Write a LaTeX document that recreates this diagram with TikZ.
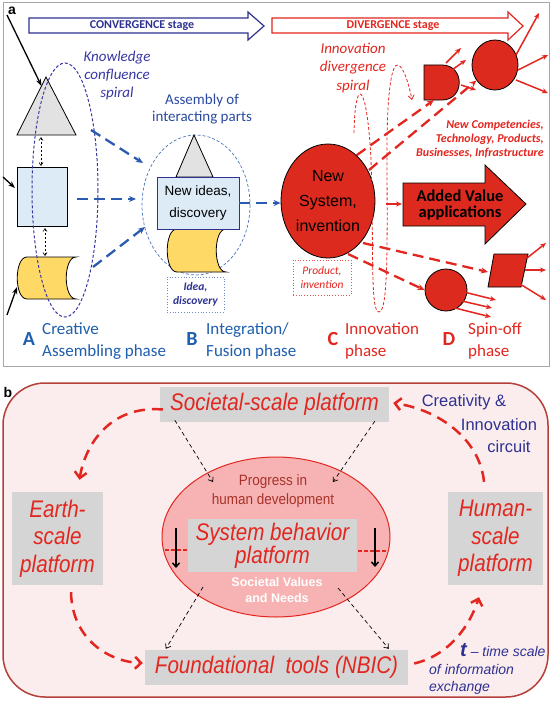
\documentclass[tikz,border=0pt]{standalone}
\usepackage{fontspec}
\setmainfont{Carlito}
\newfontfamily\arial{Liberation Sans}
\newfontfamily\cond[FakeStretch=0.86]{Liberation Sans}
\newfontfamily\semicond[FakeStretch=0.9]{Liberation Sans}
\usetikzlibrary{arrows.meta,shapes.geometric,calc}
\definecolor{convblue}{HTML}{2E3192}
\definecolor{phblue}{HTML}{1F5FAF}
\definecolor{kblue}{HTML}{3838A5}
\definecolor{dblue}{HTML}{2B5BB0}
\definecolor{myred}{HTML}{E3261F}
\definecolor{fillred}{HTML}{DC2A1E}
\definecolor{lgray}{HTML}{E2E2E2}
\definecolor{lblue}{HTML}{DDEBF7}
\definecolor{yel}{HTML}{FFD966}
\definecolor{pinkbg}{HTML}{FBEDED}
\definecolor{pinkell}{HTML}{F7B3B3}
\definecolor{boxgray}{HTML}{D5D5D5}
\definecolor{brownred}{HTML}{A8322A}
\definecolor{framered}{HTML}{B5403A}
\definecolor{assemblue}{HTML}{2A4BA0}
\tikzset{
  blackarr/.style={line width=1.3pt,-{Stealth[length=7pt,width=5pt]}},
  dblarr/.style={line width=0.6pt,dash pattern=on 2.5pt off 1.5pt,{Straight Barb[length=3pt,width=4pt]}-{Straight Barb[length=3pt,width=4pt]}},
  bluedash/.style={dblue,line width=2.3pt,dash pattern=on 11pt off 6pt,-{Stealth[length=7pt,width=6pt]}},
  reddash/.style={myred,line width=2.3pt,dash pattern=on 11pt off 6pt,-{Stealth[length=7pt,width=6pt]}},
  redarr/.style={myred,line width=1.5pt,-{Stealth[length=6pt,width=5pt]}},
  blkdash/.style={line width=0.7pt,dash pattern=on 4pt off 3pt,-{Straight Barb[length=4pt,width=6pt]}},
  redcurve/.style={myred,line width=2.5pt,dash pattern=on 11pt off 7pt,-{Straight Barb[length=6pt,width=12pt]}},
  shapeline/.style={draw=black,line width=0.8pt},
  graybox/.style={fill=boxgray,inner sep=0pt,text=myred,align=center},
  phaseletter/.style={font=\bfseries\fontsize{20}{20}\selectfont,inner sep=0pt},
  phasetext/.style={anchor=west,inner sep=0pt,align=left,font=\fontsize{17}{22}\selectfont},
}
\begin{document}
\begin{tikzpicture}[x=1pt,y=-1pt]
\useasboundingbox (0,0) rectangle (552,701);
\fill[white] (0,0) rectangle (552,701);
% ================= panel a =================
\draw[gray!70,line width=1pt] (3,3) rectangle (549,366);
\node[font=\arial\bfseries\fontsize{14}{14}\selectfont] (la) at (12,11) {a};
% stage arrows
\draw[convblue,line width=1.2pt,fill=white] (29,18) -- (248,18) -- (248,12) -- (264,26) -- (248,40) -- (248,33) -- (29,33) -- cycle;
\node[convblue,font=\bfseries\fontsize{12}{12}\selectfont] (conv) at (142,26) {CONVERGENCE stage};
\draw[myred,line width=1.2pt,fill=white] (272,18) -- (508,18) -- (508,12) -- (523,26) -- (508,40) -- (508,33) -- (272,33) -- cycle;
\node[myred,font=\bfseries\fontsize{12}{12}\selectfont] (div) at (393,26) {DIVERGENCE stage};
% A shapes
\draw[shapeline,fill=lgray] (46,77) -- (76,135) -- (17,135) -- cycle;
\coordinate (triA) at (41.5,86);
\node[shapeline,fill=lblue,minimum width=50pt,minimum height=59pt,inner sep=0pt] (sqA) at (42,196.5) {};
\draw[shapeline,fill=yel] (27,257) -- (76,257) .. controls (63,257) and (63,299) .. (76,299) -- (27,299) .. controls (14,299) and (14,257) .. (27,257) -- cycle;
\coordinate (scA) at (17,287);
\coordinate (s1) at (7,15);
\coordinate (s2) at (3,177);
\coordinate (s3) at (7,315);
\draw[blackarr] (s1) -- (triA);
\draw[blackarr] (s2) -- (15,188);
\draw[blackarr] (s3) -- (scA);
\draw[dblarr] (41,137) -- (41,166);
\draw[dblarr] (45,228) -- (45,256);
% knowledge spiral
\draw[kblue,line width=1pt,dash pattern=on 3pt off 2pt] (65,190) ellipse [x radius=33,y radius=127];
\node[kblue,font=\itshape\fontsize{15}{18}\selectfont,align=center] (know) at (117,76) {Knowledge\\confluence\\spiral};
% B group
\draw[dblue!85,line width=0.7pt,dash pattern=on 3pt off 2pt] (196,205) ellipse [x radius=54,y radius=70];
\node[assemblue,font=\fontsize{15}{17}\selectfont,align=center] (assem) at (202,109) {Assembly of\\interacting parts};
\draw[shapeline,fill=lgray] (194,135) -- (213,177) -- (176,177) -- cycle;
\draw[shapeline,fill=yel] (177,229) -- (226,229) .. controls (213,229) and (213,272) .. (226,272) -- (177,272) .. controls (164,272) and (164,229) .. (177,229) -- cycle;
\node[draw=convblue,fill=lblue,line width=0.8pt,minimum width=82pt,minimum height=52pt,inner sep=0pt,font=\arial\fontsize{13.5}{22}\selectfont,align=center] (ni) at (198,203) {New ideas,\\discovery};
\node[draw=dblue!70,dotted,line width=0.8pt,minimum width=57pt,minimum height=35pt,inner sep=0pt,text=convblue,font=\bfseries\itshape\fontsize{11.5}{14}\selectfont,align=center] (idea) at (195.5,294.5) {Idea,\\discovery};
% blue dashed arrows
\coordinate (k1) at (91,130);
\coordinate (k2) at (77,199);
\coordinate (k3) at (93,267);
\draw[bluedash] (k1) -- (143,163);
\draw[bluedash] (k2) -- (136,199);
\draw[bluedash] (k3) -- (145,227);
% C group
\node[ellipse,draw=black,fill=fillred,line width=0.8pt,minimum width=94pt,minimum height=114pt,inner sep=0pt,font=\arial\fontsize{16}{25}\selectfont,align=center] (ns) at (328,201) {New\\System,\\invention};
\draw[bluedash] (ni.east) -- (ni.east -| ns.west);
\node[draw=myred!80,dotted,line width=0.8pt,minimum width=58pt,minimum height=35pt,inner sep=0pt,text=myred,font=\itshape\fontsize{11.5}{14}\selectfont,align=center] (prod) at (322,277.5) {Product,\\invention};
\node[myred,font=\itshape\fontsize{15}{18.5}\selectfont,align=center] (innsp) at (353,68) {Innovation\\divergence\\spiral};
\draw[myred,line width=0.8pt,dash pattern=on 3pt off 2pt,-{Straight Barb[length=4pt,width=6pt]}]
  (354,133) .. controls (355,75) and (367,80) .. (371,160)
  .. controls (374,250) and (370,312) .. (379,312)
  .. controls (389,312) and (387,230) .. (387,150)
  .. controls (387,90) and (392,63) .. (398,65)
  .. controls (404,67) and (409,85) .. (412,100);
% D group
\draw[shapeline,fill=fillred] (424,65) -- (442,65) .. controls (465,65) and (465,100) .. (442,100) -- (424,100) -- cycle;
\coordinate (dsh) at (434,100);
\node[ellipse,draw=black,fill=fillred,line width=0.8pt,minimum width=46pt,minimum height=50pt,inner sep=0pt] (c1) at (495,65) {};
\draw[redarr] (446,63) -- (461,48);
\draw[redarr] (449,72) -- (466,60);
\draw[redarr] (461,85) -- (476,90);
\draw[redarr] (516,55) -- (539,13);
\draw[redarr] (518,70) -- (548,55);
\draw[redarr] (516,80) -- (548,93);
\draw[reddash] (ns.58) -- (dsh);
\draw[reddash] (369,170) -- (c1.220);
\node[myred,font=\bfseries\itshape\fontsize{12}{14}\selectfont,align=right,anchor=east,inner sep=0pt] (comp) at (544,139) {New Competencies,\\Technology, Products,\\Businesses, Infrastructure};
\draw[shapeline,fill=fillred] (403,183) -- (485,183) -- (485,165) -- (526,204) -- (485,244) -- (485,226) -- (403,226) -- cycle;
\node[font=\bfseries\fontsize{16.5}{16.5}\selectfont,align=center] (added) at (460,205) {Added Value\\applications};
\draw[redarr] (386,204) -- (402,204);
\draw[shapeline,fill=fillred] (494,254) -- (528,254) -- (521,287) -- (488,287) -- cycle;
\coordinate (par) at (488,272);
\node[circle,draw=black,fill=fillred,line width=0.8pt,minimum size=42pt,inner sep=0pt] (c2) at (446,290) {};
\draw[reddash] (363,243) -- (par);
\draw[reddash] (348,254) -- (c2.west);
\draw[redarr] (527,258) -- (546,243);
\draw[redarr] (525,270) -- (546,270);
\draw[redarr] (520,284) -- (546,300);
\draw[redarr] (464,292) -- (496,300);
\draw[redarr] (462,301) -- (492,308);
\draw[redarr] (455,308) -- (491,317);
% phase labels
\node[phaseletter,phblue] (pA) at (29,339) {A};
\node[phasetext,phblue] (tA) at (42,341) {Creative\\Assembling phase};
\node[phaseletter,phblue] (pB) at (192,339) {B};
\node[phasetext,phblue] (tB) at (206,341) {Integration/\\Fusion phase};
\node[phaseletter,myred] (pC) at (333,339) {C};
\node[phasetext,myred] (tC) at (345,341) {Innovation\\phase};
\node[phaseletter,myred] (pD) at (449,339) {D};
\node[phasetext,myred] (tD) at (468,341) {Spin-off\\phase};
% ================= panel b =================
\draw[framered,line width=1.5pt,fill=pinkbg,rounded corners=42pt] (3,383) rectangle (548,697);
\node[font=\arial\bfseries\fontsize{14}{14}\selectfont] (lb) at (8,392) {b};
\node[ellipse,draw=myred,fill=pinkell,line width=1pt,minimum width=228pt,minimum height=160pt,inner sep=0pt] (ell) at (276,537) {};
\node[brownred,font=\semicond\fontsize{15}{19}\selectfont,align=center] (prog) at (273,491.5) {Progress in\\human development};
\node[graybox,minimum width=169pt,minimum height=53pt,font=\cond\itshape\fontsize{24}{23}\selectfont] (sbp) at (272.5,545.5) {System behavior\\platform};
\node[white,font=\arial\bfseries\fontsize{12.5}{16}\selectfont,align=center] (sv) at (277,590) {Societal Values\\and Needs};
\draw[line width=1.5pt,-{Straight Barb[length=4pt,width=7pt]}] (176,528) -- (176,568);
\draw[myred,line width=1.5pt,dash pattern=on 4pt off 2pt] (165,550) -- (188,550);
\draw[line width=1.5pt,-{Straight Barb[length=4pt,width=7pt]}] (375,528) -- (375,567);
\draw[myred,line width=1.5pt,dash pattern=on 4pt off 2pt] (358,551) -- (387,551);
\node[graybox,minimum width=229pt,minimum height=35pt,font=\cond\itshape\fontsize{24}{24}\selectfont] (soc) at (274.5,404.5) {Societal-scale platform};
\node[graybox,minimum width=91pt,minimum height=93pt,font=\cond\itshape\fontsize{24}{27.5}\selectfont] (earth) at (57.5,538.5) {Earth-\\scale\\platform};
\node[graybox,minimum width=95pt,minimum height=93pt,font=\cond\itshape\fontsize{24}{27.5}\selectfont] (human) at (495.5,538.5) {Human-\\scale\\platform};
\node[graybox,minimum width=263pt,minimum height=35pt,font=\cond\itshape\fontsize{24}{24}\selectfont] (found) at (276.5,667.5) {Foundational\ \ tools (NBIC)};
% black dashed arrows
\draw[blkdash] ($(soc.south west)+(15,-2)$) -- (213,482);
\draw[blkdash] ($(soc.south west)+(215,-1)$) -- (333,482);
\draw[blkdash] (203,587) -- ($(found.north west)+(21,-1)$);
\draw[blkdash] (338,588) -- ($(found.north west)+(244,-1)$);
% red curved circuit
\draw[redcurve] ($(soc.west)+(3,5)$) .. controls (110,405) and (85,445) .. ($(earth.north)+(22,-12)$);
\draw[redcurve] ($(earth.south)+(13.5,7)$) .. controls (72,640) and (110,662) .. ($(found.west)+(-2,-4.5)$);
\draw[redcurve] ($(found.east)+(6,-4)$) .. controls (450,655) and (470,625) .. ($(human.south)+(-16.5,12)$);
\draw[redcurve] ($(human.north)+(-11.5,-10)$) .. controls (480,440) and (440,410) .. ($(soc.east)+(4,-1.5)$);
\node[convblue,font=\arial\fontsize{16.5}{16.5}\selectfont] (cr1) at (464,402) {Creativity \&};
\node[convblue,font=\arial\fontsize{16.5}{16.5}\selectfont] (cr2) at (499,425) {Innovation};
\node[convblue,font=\arial\fontsize{16.5}{16.5}\selectfont] (cr3) at (509,447) {circuit};
\node[anchor=west,inner sep=0pt,convblue,font=\arial\itshape\fontsize{14}{14}\selectfont] (t1) at (460,650) {{\bfseries\fontsize{20}{20}\selectfont t} – time scale};
\node[anchor=west,inner sep=0pt,convblue,font=\arial\itshape\fontsize{14}{14}\selectfont] (t2) at (429,669) {of information};
\node[anchor=west,inner sep=0pt,convblue,font=\arial\itshape\fontsize{14}{14}\selectfont] (t3) at (429,688) {exchange};
\end{tikzpicture}
\end{document}
